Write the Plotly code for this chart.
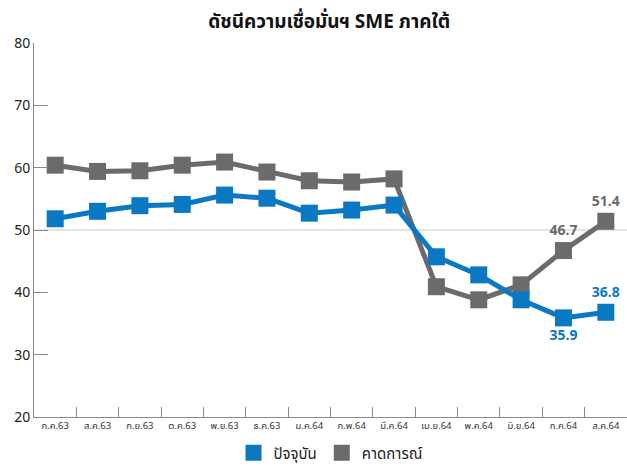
import plotly.graph_objects as go

# Data
months = ["ก.ค.63", "ส.ค.63", "ก.ย.63", "ต.ค.63", "พ.ย.63", "ธ.ค.63", "ม.ค.64",
          "ก.พ.64", "มี.ค.64", "เม.ย.64", "พ.ค.64", "มิ.ย.64", "ก.ค.64", "ส.ค.64"]
current = [51.8, 53.0, 53.9, 54.1, 55.6, 55.1, 52.7, 53.2, 54.0, 45.7, 42.8, 38.8, 35.9, 36.8]
expected = [60.4, 59.4, 59.5, 60.4, 60.9, 59.3, 57.9, 57.7, 58.2, 40.9, 38.8, 41.2, 46.7, 51.4]
ref_line = 50

BLUE = "#0b78c3"
GRAY = "#6b6b6d"
FONT = "Noto Sans Thai, Noto Sans, DejaVu Sans, sans-serif"


def labels(values, show_idx):
    return [f"{v:.1f}" if i in show_idx else "" for i, v in enumerate(values)]


fig = go.Figure()

fig.add_trace(go.Scatter(
    x=months, y=expected, mode="lines+markers+text", showlegend=False, cliponaxis=False,
    line=dict(color=GRAY, width=5),
    marker=dict(symbol="square", size=17, color=GRAY),
    text=labels(expected, {12, 13}),
    textposition="top center",
    textfont=dict(color=GRAY, size=14, family=FONT, weight="bold"),
))
fig.add_trace(go.Scatter(
    x=months, y=current, mode="lines+markers+text", showlegend=False, cliponaxis=False,
    line=dict(color=BLUE, width=5),
    marker=dict(symbol="square", size=17, color=BLUE),
    text=labels(current, {12, 13}),
    textposition=["top center"] * 12 + ["bottom center", "top center"],
    textfont=dict(color=BLUE, size=14, family=FONT, weight="bold"),
))

# legend entries (square only)
for name, color in [("ปัจจุบัน", BLUE), ("คาดการณ์", GRAY)]:
    fig.add_trace(go.Scatter(x=[None], y=[None], mode="markers", name=name,
                             marker=dict(symbol="square", size=17, color=color)))

fig.add_hline(y=ref_line, line=dict(color="#c8c8c8", width=1), layer="below")

fig.update_layout(
    width=627, height=466,
    margin=dict(l=34, r=0, t=43, b=49, autoexpand=False),
    paper_bgcolor="white", plot_bgcolor="white",
    font=dict(family=FONT, color="#222"),
    title=dict(text="<b>ดัชนีความเชื่อมั่นฯ SME ภาคใต้</b>", x=0.525, xanchor="center",
               y=0.955, yanchor="middle", font=dict(size=19, color="#111")),
    showlegend=True,
    legend=dict(orientation="h", x=0.5, xanchor="center", y=-0.052, yanchor="top",
                font=dict(size=15, color="#222"), itemwidth=30, traceorder="normal"),
    xaxis=dict(type="category", range=[-0.5, 13.5], showgrid=False, automargin=False,
               showline=True, linecolor="#8a8a8a", linewidth=1,
               ticks="inside", tickson="boundaries", ticklen=10, tickcolor="#8a8a8a",
               tickfont=dict(size=9.5, color="#333"), tickangle=0),
    yaxis=dict(range=[20, 80], dtick=10, showgrid=False, zeroline=False, automargin=False,
               showline=True, linecolor="#8a8a8a", linewidth=1,
               ticks="inside", ticklen=14, tickcolor="#8a8a8a",
               tickfont=dict(size=14, color="#222")),
)

fig.write_html("out.html", config={"displayModeBar": False},
               post_script="document.body.style.margin='0';")
